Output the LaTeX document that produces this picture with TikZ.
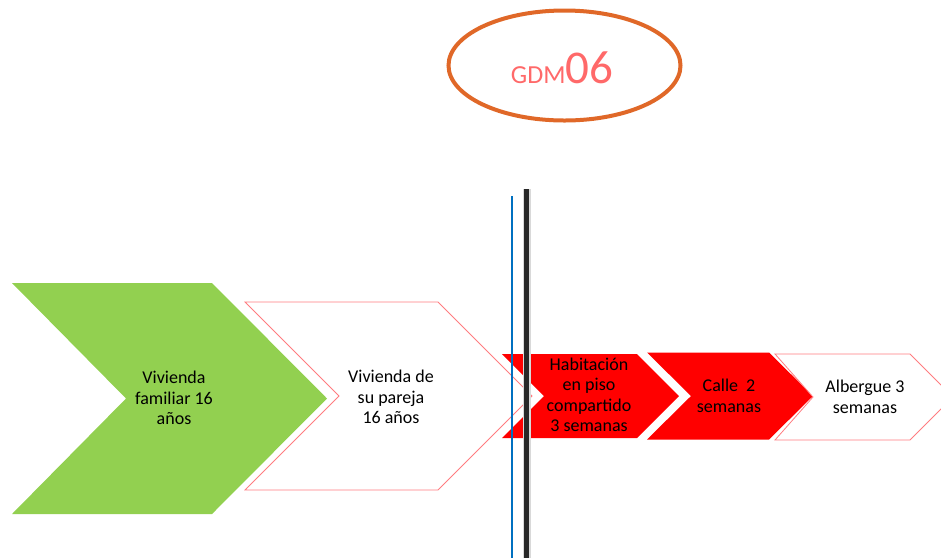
\documentclass[tikz,border=0pt]{standalone}
\usepackage{fontspec}
\setmainfont{Carlito}
\definecolor{cgreen}{RGB}{146,208,80}
\definecolor{cred}{RGB}{255,0,0}
\definecolor{cpink}{RGB}{255,124,128}
\definecolor{corange}{RGB}{224,104,40}
\definecolor{ccoral}{RGB}{255,105,105}
\definecolor{cblue}{RGB}{0,112,192}
\definecolor{cdark}{RGB}{40,40,40}
\tikzset{
  lbl/.style={align=center, font=\fontsize{18}{20.5}\selectfont, text=black, inner sep=0pt},
  greenchev/.style={fill=cgreen, draw=none},
  redchev/.style={fill=cred, draw=none},
  whitechev/.style={fill=white, draw=cpink, line width=0.8pt},
}
\begin{document}
\begin{tikzpicture}[x=1pt,y=-1pt]
\useasboundingbox (0,0) rectangle (941,558);
\begin{scope}
\clip (0,0) rectangle (941,558);
% chevrons
\path[greenchev] (12,283)--(212,283)--(327,398.5)--(212,514)--(12,514)--(126,398.5)--cycle;
\path[whitechev] (245,302)--(438,302)--(532,396)--(438,490)--(245,490)--(339,396)--cycle;
\path[redchev] (502,354)--(637,354)--(679,396)--(637,438)--(502,438)--(544,396)--cycle;
\path[redchev] (647,352.5)--(769,352.5)--(813,396)--(769,439.5)--(647,439.5)--(691,396)--cycle;
\path[whitechev] (775,354)--(910,354)--(953,397)--(910,440)--(775,440)--(813,397)--cycle;
% labels
\node[lbl] (t1) at (174,398) {Vivienda\\familiar 16\\años};
\node[lbl] (t2) at (391,397) {Vivienda de\\su pareja\\16 años};
\node[lbl] (t3) at (589,395) {Habitación\\en piso\\compartido\\3 semanas};
\node[lbl] (t4) at (729,396) {Calle\ \ 2\\semanas};
\node[lbl] (t5) at (865,397) {Albergue 3\\semanas};
% vertical lines
\coordinate (b1) at (511.7,196);
\coordinate (b2) at (511.7,558);
\coordinate (k1) at (526.5,189);
\coordinate (k2) at (526.5,558);
\draw[cblue, line width=2pt] (b1) -- (b2);
\draw[black!15, line width=8pt] (k1) -- (k2);
\draw[cdark, line width=5.5pt] (k1) -- (k2);
% title ellipse
\draw[corange, line width=4pt, fill=white] (564.5,65.5) ellipse [x radius=116, y radius=55];
\node[inner sep=0pt, anchor=base, text=ccoral] (title) at (562,83)
  {\fontsize{26}{26}\selectfont GDM\fontsize{47}{47}\selectfont 06};
\end{scope}
\end{tikzpicture}
\end{document}
